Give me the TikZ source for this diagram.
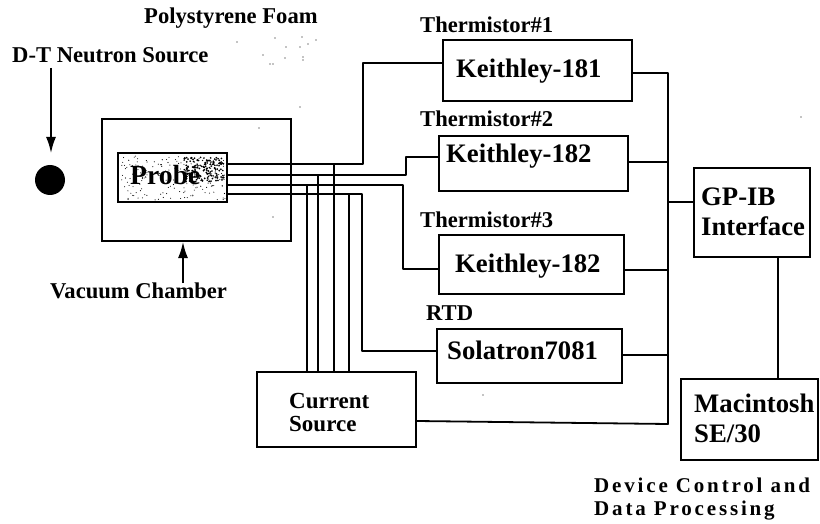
\documentclass[tikz,border=0pt]{standalone}
\usepackage{fontspec}
\usetikzlibrary{arrows.meta}
\setmainfont{Liberation Serif}
\newfontfamily\spaced[LetterSpace=13.5]{Liberation Serif}
\begin{document}
\begin{tikzpicture}[x=1pt,y=-1pt,
  boxn/.style={draw=black,line width=2pt,inner sep=0pt,fill=none},
  wire/.style={draw=black,line width=1.8pt,line join=round},
  big/.style={font=\bfseries\fontsize{26.7}{30}\selectfont,inner sep=0pt,text=black,anchor=base west,align=left},
  mid/.style={font=\bfseries\fontsize{23}{23}\selectfont,inner sep=0pt,text=black,anchor=base west,align=left},
  small/.style={font=\bfseries\fontsize{22.6}{24}\selectfont,inner sep=0pt,text=black,anchor=base west,align=left},
  point/.style={-{Latex[length=16pt,width=10pt]},draw=black,line width=1.8pt}]
\useasboundingbox (0,0) rectangle (820,524);
\fill[white] (0,0) rectangle (820,524);
% boxes
\node[boxn,minimum width=189pt,minimum height=122pt] (vac) at (196.5,180) {};
\node[boxn,minimum width=109pt,minimum height=49pt,fill=white] (probe) at (172.5,177.5) {};
\pgfmathsetseed{42}
\foreach \i in {1,...,170}{
  \pgfmathsetmacro{\px}{121+104*rnd}
  \pgfmathsetmacro{\py}{156+44*rnd}
  \fill[black] (\px,\py) circle (0.55pt);
}
\foreach \i in {1,...,170}{
  \pgfmathsetmacro{\px}{184+40*rnd}
  \pgfmathsetmacro{\py}{157+25*rnd}
  \fill[black] (\px,\py) circle (0.95pt);
}
\node[font=\bfseries\fontsize{27.7}{30}\selectfont,inner sep=0pt,anchor=base west] (probet) at (130,185) {Probe};
\node[boxn,minimum width=189pt,minimum height=61pt] (k1) at (537.5,70.5) {};
\node[big] (k1t) at (456,78) {Keithley-181};
\node[boxn,minimum width=189pt,minimum height=55pt] (k2) at (533.5,163.5) {};
\node[big] (k2t) at (446,163) {Keithley-182};
\node[boxn,minimum width=185pt,minimum height=59pt] (k3) at (531.5,264.5) {};
\node[big] (k3t) at (455,272) {Keithley-182};
\node[boxn,minimum width=185pt,minimum height=54pt] (sol) at (529.5,356) {};
\node[big] (solt) at (447,359) {Solatron7081};
\node[boxn,minimum width=159pt,minimum height=75pt] (cur) at (336.5,409.5) {};
\node[mid] (curt) at (289,431) {Current\\Source};
\node[boxn,minimum width=116pt,minimum height=89pt] (gp) at (752,212.5) {};
\node[big] (gpt) at (701,236) {GP-IB\\Interface};
\node[boxn,minimum width=137pt,minimum height=81pt] (mac) at (749.5,419.5) {};
\node[big] (mact) at (694,442) {Macintosh\\SE/30};
% wires
\coordinate (p1) at (227,164);\coordinate (p2) at (227,175);
\coordinate (p3) at (227,185);\coordinate (p4) at (227,194);
\draw[wire] (p1) -- (363,164) -- (363,63) -- (k1.west |- 0,63);
\draw[wire] (p2) -- (406,175) -- (406,157) -- (k2.west |- 0,157);
\draw[wire] (p3) -- (403,185) -- (403,269) -- (k3.west |- 0,269);
\draw[wire] (p4) -- (362,194) -- (362,351) -- (sol.west |- 0,351);
\draw[wire] (307,185) -- (307,372);
\draw[wire] (318,175) -- (318,372);
\draw[wire] (334,164) -- (334,372);
\draw[wire] (349,194) -- (349,372);
\coordinate (bt) at (668,73);
\coordinate (bb) at (668,424);
\draw[wire] (k1.east |- 0,73) -- (bt) -- (bb) -- (cur.east |- 0,421);
\draw[wire] (k2.east |- 0,162) -- (668,162);
\draw[wire] (k3.east |- 0,270) -- (668,270);
\draw[wire] (sol.east |- 0,355) -- (668,355);
\draw[wire] (668,202) -- (gp.west |- 0,202);
\draw[wire] (gp.south -| 778,0) -- (mac.north -| 778,0);
% labels
\node[small] (l1) at (144,24) {Polystyrene Foam};
\node[small] (l2) at (12,63) {D-T Neutron Source};
\node[small] (l3) at (50,298) {Vacuum Chamber};
\node[small] (t1) at (420,33) {Thermistor\#1};
\node[small] (t2) at (420,127) {Thermistor\#2};
\node[small] (t3) at (420,228) {Thermistor\#3};
\node[small] (t4) at (426,320) {RTD};
\node[small,font=\spaced\bfseries\fontsize{21}{23}\selectfont] (dc) at (594,515) {Device Control and\\Data Processing};
% source and arrows
\node[circle,fill=black,minimum size=30pt,inner sep=0pt] (src) at (50,180) {};
\coordinate (a1) at (51,68);\coordinate (a2) at (51,153);
\draw[point] (a1) -- (a2);
\coordinate (a3) at (183,283);
\draw[point] (a3) -- (vac.south -| 183,0);
% scan specks
\foreach \x/\y in {259/128,273/217,300/107,483/395,801/117,237/42,275/38,302/37,316/40,286/47,300/47,308/44,285/58,263/55,270/64,273/64,303/57,303/60}
  \fill[black] (\x,\y) circle (0.6pt);
\end{tikzpicture}
\end{document}
